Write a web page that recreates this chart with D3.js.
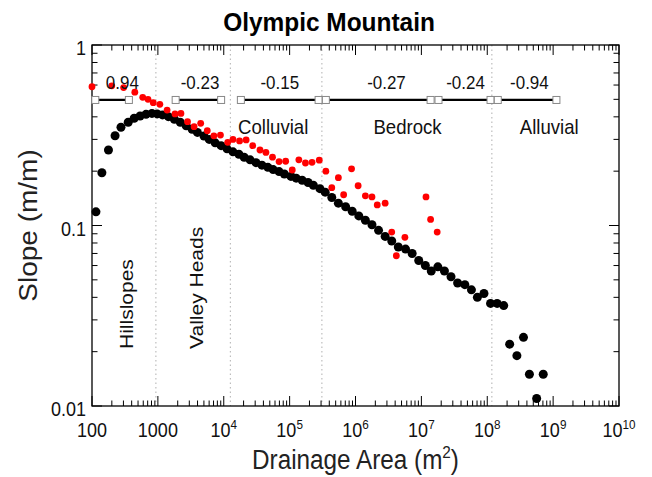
<!DOCTYPE html>
<html lang="en">
<head>
  <meta charset="UTF-8">
  <script src="https://d3js.org/d3.v7.min.js"></script>
  <style>
    html, body {
      margin: 0;
      padding: 0;
      background-color: white;
    }
    text {
      font-family: "Liberation Sans", Arial, sans-serif;
    }
  </style>
</head>
<body>
  <svg id="chart" width="652" height="477"></svg>
  <script>
    // black dots: log10 drainage area and slope
    const blackLogArea = [2.06, 2.15, 2.25, 2.35, 2.44, 2.55, 2.64, 2.73, 2.82, 2.91,
      2.99, 3.07, 3.16, 3.25, 3.34, 3.43, 3.52, 3.60, 3.70, 3.78,
      3.87, 3.96, 4.05, 4.14, 4.23, 4.31, 4.40, 4.49, 4.58, 4.67,
      4.75, 4.84, 4.92, 5.02, 5.10, 5.19, 5.28, 5.36, 5.46, 5.54,
      5.64, 5.74, 5.85, 5.95, 6.05, 6.15, 6.25, 6.35, 6.45, 6.55,
      6.65, 6.76, 6.86, 6.96, 7.06, 7.15, 7.25, 7.35, 7.45, 7.55,
      7.66, 7.76, 7.85, 7.95, 8.05, 8.15, 8.25, 8.34, 8.45, 8.55,
      8.64, 8.75, 8.85];
    const blackSlope = [0.119, 0.196, 0.262, 0.314, 0.350, 0.373, 0.393, 0.404, 0.413, 0.418,
      0.415, 0.410, 0.401, 0.388, 0.373, 0.357, 0.341, 0.328, 0.313, 0.300,
      0.287, 0.277, 0.266, 0.256, 0.248, 0.239, 0.231, 0.223, 0.216, 0.210,
      0.204, 0.199, 0.193, 0.187, 0.183, 0.178, 0.173, 0.167, 0.160, 0.153,
      0.143, 0.133, 0.127, 0.120, 0.113, 0.107, 0.101, 0.094, 0.087, 0.082,
      0.076, 0.074, 0.070, 0.064, 0.060, 0.056, 0.059, 0.056, 0.052, 0.048,
      0.047, 0.044, 0.040, 0.042, 0.037, 0.037, 0.036, 0.022, 0.019, 0.024,
      0.015, 0.011, 0.015];

    // red dots
    const redLogArea = [2.00, 2.30, 2.48, 2.65, 2.77, 2.85, 2.93, 3.03, 3.14, 3.26,
      3.35, 3.45, 3.55, 3.65, 3.75, 3.85, 3.95, 4.06, 4.14, 4.24,
      4.34, 4.44, 4.55, 4.64, 4.74, 4.84, 4.94, 5.04, 5.14, 5.24,
      5.34, 5.45, 5.55, 5.64, 5.74, 5.82, 5.94, 6.04, 6.15, 6.25,
      6.33, 6.45, 6.55, 6.62, 6.75, 7.07, 7.14, 7.24];
    const redSlope = [0.587, 0.594, 0.581, 0.548, 0.513, 0.500, 0.479, 0.469, 0.436, 0.415,
      0.418, 0.376, 0.353, 0.368, 0.335, 0.314, 0.317, 0.289, 0.300, 0.294,
      0.298, 0.277, 0.262, 0.254, 0.239, 0.226, 0.227, 0.203, 0.231, 0.222,
      0.224, 0.230, 0.200, 0.162, 0.184, 0.148, 0.206, 0.166, 0.146, 0.144,
      0.130, 0.133, 0.092, 0.068, 0.086, 0.144, 0.108, 0.092];

    // fitted segments (log10 area of ends) and their exponents
    const segStart = [2.05, 3.27, 4.26, 5.55, 7.26, 8.16];
    const segEnd = [2.56, 3.96, 5.44, 7.14, 8.05, 9.05];
    const segLabels = ["0.94", "-0.23", "-0.15", "-0.27", "-0.24", "-0.94"];
    const segLabelLogArea = [2.46, 3.64, 4.85, 6.47, 7.67, 8.64];
    const segSlope = 0.496;
    const segLabelSlope = 0.57;

    // process boundaries (dotted lines)
    const boundaryLogArea = [2.97, 4.10, 5.49, 8.07];

    // process names
    const vertNames = ["Hillslopes", "Valley Heads"];
    const vertLogArea = [2.62, 3.68];
    const vertSlope = 0.0207;
    const horizNames = ["Colluvial", "Bedrock", "Alluvial"];
    const horizLogArea = [4.75, 6.79, 8.94];
    const horizSlope = 0.321;

    const xDecades = [2, 3, 4, 5, 6, 7, 8, 9, 10];
    const yTickLabels = ["0.01", "0.1", "1"];
    const yTickValues = [0.01, 0.1, 1];

    const svg = d3.select("#chart");
    const width = +svg.attr("width");
    const height = +svg.attr("height");
    const margin = { top: 45, right: 33, bottom: 71, left: 92 };
    const x0 = margin.left, x1 = width - margin.right;
    const y0 = height - margin.bottom, y1 = margin.top;

    const x = d3.scaleLog().domain([1e2, 1e10]).range([x0, x1]);
    const y = d3.scaleLog().domain([0.01, 1]).range([y0, y1]);
    const la = v => Math.pow(10, v);

    // text helper - the original fonts look a bit condensed
    function addText(g, px, py, str, size, opts = {}) {
      const sx = opts.sx || 0.92;
      const rot = opts.rotate || 0;
      return g.append("text")
        .attr("transform", `translate(${px},${py}) scale(${sx},1) rotate(${rot})`)
        .attr("text-anchor", opts.anchor || "middle")
        .attr("font-size", size)
        .attr("font-weight", opts.weight || "normal")
        .attr("fill", opts.fill || "#111")
        .text(str);
    }

    // dotted boundaries
    svg.append("g").selectAll("line").data(boundaryLogArea).join("line")
      .attr("x1", d => x(la(d))).attr("x2", d => x(la(d)))
      .attr("y1", y1).attr("y2", y0)
      .attr("stroke", "#b0b0b0").attr("stroke-width", 1)
      .attr("stroke-dasharray", "1.5,3");

    // ticks all round, pointing in
    const xt = x.ticks();
    const yt = y.ticks();
    const isMajor = v => Math.abs(Math.log10(v) - Math.round(Math.log10(v))) < 1e-6;
    const tk = svg.append("g").attr("stroke", "#000").attr("stroke-width", 1);
    tk.selectAll("line.xb").data(xt).join("line").attr("class", "xb")
      .attr("x1", d => x(d)).attr("x2", d => x(d))
      .attr("y1", y0).attr("y2", d => y0 - (isMajor(d) ? 10 : 5.5));
    tk.selectAll("line.xt").data(xt).join("line").attr("class", "xt")
      .attr("x1", d => x(d)).attr("x2", d => x(d))
      .attr("y1", y1).attr("y2", d => y1 + (isMajor(d) ? 10 : 5.5));
    tk.selectAll("line.yl").data(yt).join("line").attr("class", "yl")
      .attr("y1", d => y(d)).attr("y2", d => y(d))
      .attr("x1", x0).attr("x2", d => x0 + (isMajor(d) ? 10 : 5.5));
    tk.selectAll("line.yr").data(yt).join("line").attr("class", "yr")
      .attr("y1", d => y(d)).attr("y2", d => y(d))
      .attr("x1", x1).attr("x2", d => x1 - (isMajor(d) ? 10 : 5.5));

    // frame
    svg.append("rect")
      .attr("x", x0).attr("y", y1)
      .attr("width", x1 - x0).attr("height", y0 - y1)
      .attr("fill", "none").attr("stroke", "#000").attr("stroke-width", 1.3);

    // x tick labels
    const xl = svg.append("g");
    xDecades.forEach(d => {
      const t = xl.append("text")
        .attr("transform", `translate(${x(la(d))},${y0 + 31}) scale(0.9,1)`)
        .attr("text-anchor", "middle")
        .attr("font-size", 20)
        .attr("fill", "#111");
      if (d < 4) {
        t.text(String(Math.pow(10, d)));
      } else {
        t.append("tspan").text("10");
        t.append("tspan").attr("font-size", 13).attr("dy", -8).text(d);
      }
    });

    // y tick labels
    const yl = svg.append("g");
    yTickValues.forEach((v, i) => {
      addText(yl, x0 - 6, y(v) + 10, yTickLabels[i], 20, { anchor: "end", sx: 0.9 });
    });

    // axis titles
    const xTitle = svg.append("text")
      .attr("transform", `translate(${(x0 + x1) / 2},${height - 8}) scale(0.9,1)`)
      .attr("text-anchor", "middle")
      .attr("font-size", 27)
      .attr("fill", "#222");
    xTitle.append("tspan").text("Drainage Area (m");
    xTitle.append("tspan").attr("font-size", 17).attr("dy", -11).text("2");
    xTitle.append("tspan").attr("dy", 11).text(")");

    addText(svg, 37, (y0 + y1) / 2, "Slope (m/m)", 28, { rotate: -90, sx: 0.9, fill: "#222" });

    // title
    addText(svg, 329, 31, "Olympic Mountain", 26, { weight: "bold", sx: 0.94, fill: "#000" });

    // process names
    const ann = svg.append("g");
    vertNames.forEach((n, i) => {
      addText(ann, x(la(vertLogArea[i])), y(vertSlope), n, 21, { rotate: -90, anchor: "start", sx: 0.9 });
    });
    horizNames.forEach((n, i) => {
      addText(ann, x(la(horizLogArea[i])), y(horizSlope), n, 20, { sx: 0.93 });
    });

    // dots
    const blackData = blackLogArea.map((a, i) => ({ a: la(a), s: blackSlope[i] }));
    const redData = redLogArea.map((a, i) => ({ a: la(a), s: redSlope[i] }));

    svg.append("g").selectAll("circle").data(blackData).join("circle")
      .attr("cx", d => x(d.a)).attr("cy", d => y(d.s))
      .attr("r", 4.5).attr("fill", "#000");
    svg.append("g").selectAll("circle").data(redData).join("circle")
      .attr("cx", d => x(d.a)).attr("cy", d => y(d.s))
      .attr("r", 3.4).attr("fill", "#ff0000");

    // fitted segments bar
    const seg = svg.append("g");
    const segData = segStart.map((s, i) => ({ s: la(s), e: la(segEnd[i]), lab: segLabels[i], lx: la(segLabelLogArea[i]) }));
    seg.selectAll("line").data(segData).join("line")
      .attr("x1", d => x(d.s)).attr("x2", d => x(d.e))
      .attr("y1", y(segSlope)).attr("y2", y(segSlope))
      .attr("stroke", "#000").attr("stroke-width", 2.2);
    const ends = segData.flatMap(d => [d.s, d.e]);
    seg.selectAll("rect").data(ends).join("rect")
      .attr("x", d => x(d) - 3.5).attr("y", y(segSlope) - 3.5)
      .attr("width", 7).attr("height", 7)
      .attr("fill", "#fff").attr("stroke", "#888").attr("stroke-width", 1);
    segData.forEach(d => {
      addText(seg, x(d.lx), y(segLabelSlope), d.lab, 17.5, { sx: 0.97 });
    });
  </script>
</body>
</html>
